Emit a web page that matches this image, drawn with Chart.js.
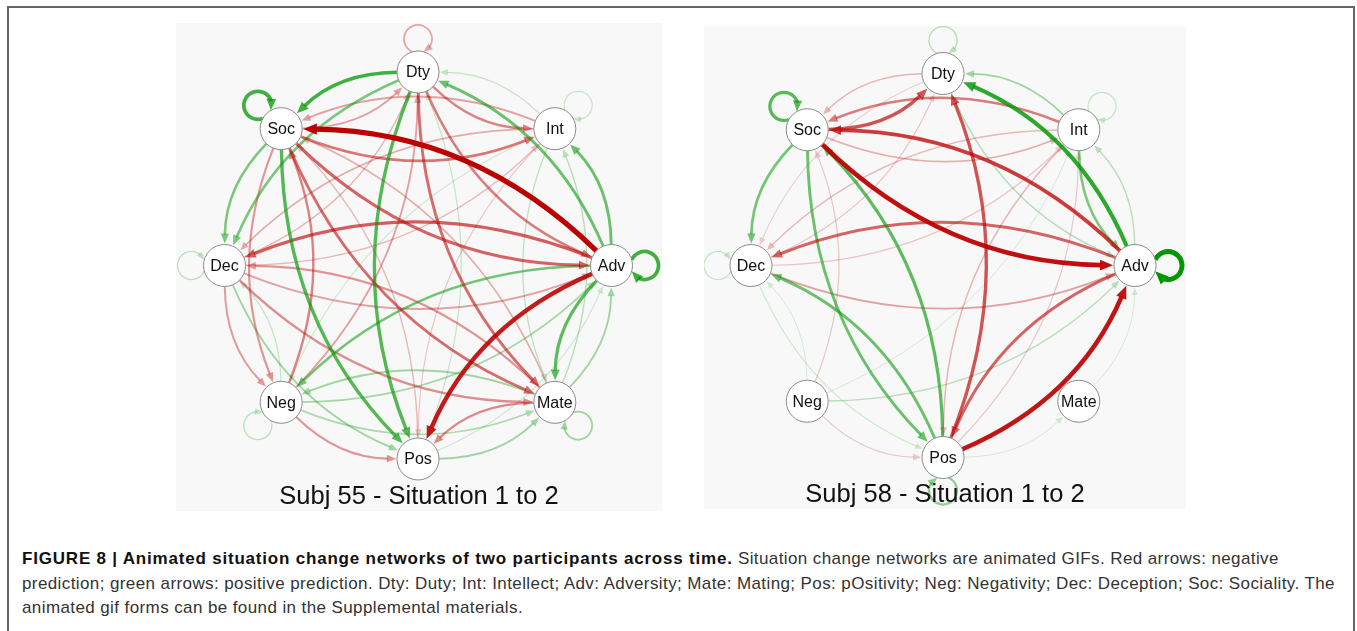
<!DOCTYPE html>
<html><head><meta charset="utf-8">
<script src="https://cdn.jsdelivr.net/npm/chart.js@4.4.1/dist/chart.umd.min.js"></script>
<style>
html,body{margin:0;padding:0;background:#fff;width:1357px;height:631px;overflow:hidden;font-family:"Liberation Sans",Arial,sans-serif;}
#frame{position:absolute;left:7px;top:6px;width:1348px;height:700px;border:2px solid #666;box-sizing:border-box;}
.panel{position:absolute;background:#f8f8f8;}
.panel canvas{position:absolute;left:0;top:0;}
.ptitle{position:absolute;left:0;width:100%;text-align:center;font-size:25.5px;color:#111;line-height:1;white-space:nowrap;}
#caption{position:absolute;left:22px;top:547px;font-size:17px;line-height:24.5px;color:#333;white-space:nowrap;letter-spacing:0.4px;}
#caption b{color:#111;letter-spacing:0.8px;}
</style></head>
<body>
<div id="frame"></div>
<div class="panel" id="p1" style="left:176px;top:23px;width:486px;height:488px;">
  <canvas id="c1" width="486" height="488"></canvas>
  <div class="ptitle" style="top:460px;">Subj 55 - Situation 1 to 2</div>
</div>
<div class="panel" id="p2" style="left:704px;top:26px;width:482px;height:483px;">
  <canvas id="c2" width="482" height="483"></canvas>
  <div class="ptitle" style="top:455px;">Subj 58 - Situation 1 to 2</div>
</div>
<div id="caption"><b>FIGURE 8 | Animated situation change networks of two participants across time.</b> Situation change networks are animated GIFs. Red arrows: negative<br>prediction; green arrows: positive prediction. Dty: Duty; Int: Intellect; Adv: Adversity; Mate: Mating; Pos: pOsitivity; Neg: Negativity; Dec: Deception; Soc: Sociality. The<br>animated gif forms can be found in the Supplemental materials.</div>
<script>
// ---- DATA ----
const nodes = ['Dty','Int','Adv','Mate','Pos','Neg','Dec','Soc'];

// Subj 55 edges
const s55From = ['Adv','Adv','Dty','Soc','Adv','Dty','Soc','Adv','Adv','Adv','Adv','Adv','Soc','Soc','Dty','Dty','Dty','Soc','Int','Dty','Soc','Soc','Neg','Dec','Neg','Dec','Mate','Neg','Dec','Neg','Mate','Mate','Dec','Mate','Pos','Mate','Neg','Dec','Int','Dty','Int','Neg','Int','Int','Soc','Pos','Dec','Mate','Pos','Int','Dec','Neg','Pos','Int','Mate'];
const s55To   = ['Soc','Pos','Soc','Soc','Adv','Pos','Pos','Mate','Dty','Int','Neg','Dec','Adv','Mate','Mate','Adv','Int','Int','Soc','Dec','Dec','Neg','Soc','Neg','Dty','Adv','Pos','Pos','Pos','Mate','Neg','Dec','Mate','Adv','Mate','Mate','Neg','Dec','Int','Dty','Mate','Adv','Dty','Dec','Dty','Dty','Dty','Soc','Soc','Pos','Int','Dec','Adv','Neg','Int'];
const s55W    = [-1.0,-0.85,0.7,0.7,0.7,0.62,0.62,0.58,0.52,0.52,0.48,-0.58,-0.55,-0.52,-0.52,-0.45,-0.42,-0.48,-0.3,0.45,0.45,-0.35,-0.42,-0.32,-0.3,-0.3,-0.4,-0.35,0.3,0.25,0.3,-0.35,-0.38,0.3,0.3,0.3,0.18,0.18,0.15,-0.28,0.18,0.28,0.15,-0.25,-0.3,0.15,-0.22,-0.25,-0.2,-0.15,-0.2,0.15,0.12,0.12,0.2];

// Subj 58 edges
const s58From = ['Soc','Adv','Soc','Int','Dty','Adv','Adv','Soc','Pos','Adv','Pos','Pos','Soc','Pos','Soc','Adv','Dec','Soc','Int','Int','Adv','Dty','Neg','Pos','Dty','Int','Dec','Int','Dec','Neg','Neg','Int','Dec','Dec','Mate','Pos','Dty','Neg','Pos','Neg'];
const s58To   = ['Adv','Soc','Dty','Soc','Soc','Dty','Adv','Soc','Adv','Pos','Dty','Soc','Pos','Dec','Dec','Dec','Adv','Int','Dty','Adv','Int','Adv','Adv','Pos','Dty','Int','Dec','Dec','Dty','Soc','Pos','Pos','Int','Pos','Adv','Mate','Dec','Dec','Int','Int'];
const s58W    = [-0.9,-0.72,-0.62,-0.45,-0.22,0.78,0.95,0.6,-0.88,-0.55,-0.62,0.58,0.52,0.52,0.48,-0.55,-0.3,-0.25,0.3,0.45,0.2,0.22,0.2,0.38,0.2,0.15,0.15,-0.2,-0.15,-0.15,-0.15,-0.22,-0.15,0.12,0.1,0.1,-0.12,0.1,-0.15,0.1];

// ---- LAYOUT / STYLE ----
const NODE_R = 21;
function geom(cx, cy, R, W, H){ return {xmin:-cx/R, xmax:(W-cx)/R, ymin:-(H-cy)/R, ymax:cy/R}; }

function edgeColor(w){
  const a = Math.min(1, 0.06 + Math.abs(w)*0.98);
  return w > 0 ? 'rgba(0,150,0,'+a+')' : 'rgba(188,0,0,'+a+')';
}
function edgeWidth(w){ return 0.5 + 4.6*Math.abs(w); }

function arrowHead(ctx, tip, ux, uy, L, col){
  const hw = L*0.42;
  const bx = tip.x - ux*L, by = tip.y - uy*L;
  ctx.beginPath();
  ctx.moveTo(tip.x, tip.y);
  ctx.lineTo(bx - uy*hw, by + ux*hw);
  ctx.lineTo(bx + uy*hw, by - ux*hw);
  ctx.closePath();
  ctx.fillStyle = col;
  ctx.fill();
}

function edgePlugin(from, to, w){
  return {
    id:'edges',
    beforeDatasetsDraw(chart){
      const ctx = chart.ctx, xs = chart.scales.x, ys = chart.scales.y;
      const data = chart.data.datasets[0].data;
      const P = data.map(d => ({x: xs.getPixelForValue(d.x), y: ys.getPixelForValue(d.y)}));
      const cx = xs.getPixelForValue(0), cy = ys.getPixelForValue(0);
      const order = w.map((v,i)=>i).sort((a,b)=>Math.abs(w[a])-Math.abs(w[b]));
      ctx.save();
      ctx.lineCap = 'butt';
      for (const i of order){
        const a = nodes.indexOf(from[i]), b = nodes.indexOf(to[i]);
        const col = edgeColor(w[i]), lw = edgeWidth(w[i]);
        const L = 6 + 1.5*lw;
        ctx.strokeStyle = col; ctx.lineWidth = lw;
        if (a === b){
          const p = P[a];
          let ox = p.x - cx, oy = p.y - cy; const ol = Math.hypot(ox,oy); ox/=ol; oy/=ol;
          const rho = 14, d = NODE_R + 12;
          const lc = {x: p.x + ox*d, y: p.y + oy*d};
          const phi = Math.atan2(-oy, -ox);
          const alpha = Math.acos((d*d + rho*rho - NODE_R*NODE_R)/(2*d*rho));
          const s = phi + alpha, e0 = phi - alpha + 2*Math.PI;
          const e = e0 - (L*0.8)/rho;
          ctx.beginPath(); ctx.arc(lc.x, lc.y, rho, s, e, false); ctx.stroke();
          const tip = {x: lc.x + rho*Math.cos(e0), y: lc.y + rho*Math.sin(e0)};
          const bse = {x: lc.x + rho*Math.cos(e), y: lc.y + rho*Math.sin(e)};
          let ux = tip.x - bse.x, uy = tip.y - bse.y; const ul = Math.hypot(ux,uy); ux/=ul; uy/=ul;
          arrowHead(ctx, tip, ux, uy, L, col);
          continue;
        }
        const p0 = P[a], p2 = P[b];
        const dx = p2.x - p0.x, dy = p2.y - p0.y, len = Math.hypot(dx,dy);
        const nx = -dy/len, ny = dx/len;
        const C = {x:(p0.x+p2.x)/2 + nx*0.2*len, y:(p0.y+p2.y)/2 + ny*0.2*len};
        let sx = C.x - p0.x, sy = C.y - p0.y; let sl = Math.hypot(sx,sy); sx/=sl; sy/=sl;
        let ex = C.x - p2.x, ey = C.y - p2.y; let el = Math.hypot(ex,ey); ex/=el; ey/=el;
        const start = {x:p0.x + sx*NODE_R, y:p0.y + sy*NODE_R};
        const tip = {x:p2.x + ex*(NODE_R+1), y:p2.y + ey*(NODE_R+1)};
        const base = {x: tip.x + ex*L*0.9, y: tip.y + ey*L*0.9};
        ctx.beginPath(); ctx.moveTo(start.x, start.y); ctx.quadraticCurveTo(C.x, C.y, base.x, base.y); ctx.stroke();
        arrowHead(ctx, tip, -ex, -ey, L, col);
      }
      ctx.restore();
    }
  };
}

const labelPlugin = {
  id:'labels',
  afterDatasetsDraw(chart){
    const ctx = chart.ctx, xs = chart.scales.x, ys = chart.scales.y;
    const data = chart.data.datasets[0].data;
    ctx.save();
    ctx.font = '16px "Liberation Sans", Arial, sans-serif';
    ctx.fillStyle = '#111'; ctx.textAlign = 'center'; ctx.textBaseline = 'middle';
    data.forEach((d,i)=>{ ctx.fillText(nodes[i], xs.getPixelForValue(d.x), ys.getPixelForValue(d.y)+1); });
    ctx.restore();
  }
};

function makeChart(id, from, to, w, g){
  const pts = nodes.map((n,i)=>{ const a=(90-45*i)*Math.PI/180; return {x:Math.cos(a), y:Math.sin(a)}; });
  return new Chart(document.getElementById(id), {
    type:'scatter',
    data:{datasets:[{data:pts, pointRadius:NODE_R, pointHoverRadius:NODE_R, pointBackgroundColor:'#ffffff', pointBorderColor:'#8a8a8a', pointBorderWidth:1, clip:false}]},
    options:{responsive:false, animation:false, events:[], layout:{padding:0, autoPadding:false},
      plugins:{legend:{display:false}, tooltip:{enabled:false}, title:{display:false}},
      scales:{x:{type:'linear', display:false, min:g.xmin, max:g.xmax}, y:{type:'linear', display:false, min:g.ymin, max:g.ymax}}},
    plugins:[edgePlugin(from,to,w), labelPlugin]
  });
}

makeChart('c1', s55From, s55To, s55W, geom(242, 242.5, 193.5, 486, 488));
makeChart('c2', s58From, s58To, s58W, geom(239, 239.5, 192, 482, 483));
</script>
</body></html>
